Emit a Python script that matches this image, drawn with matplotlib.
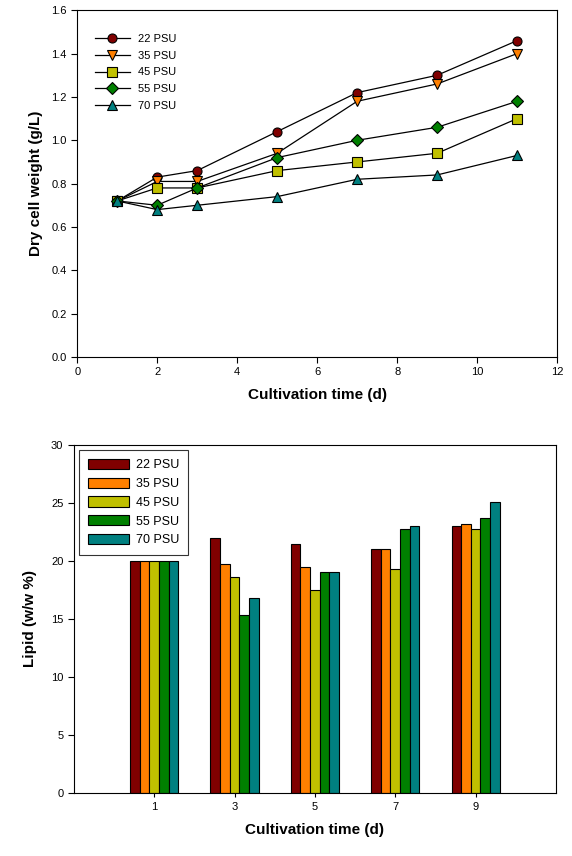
import matplotlib
matplotlib.use("Agg")
import matplotlib.pyplot as plt
import numpy as np

days = [1, 2, 3, 5, 7, 9, 11]
labels = ["22 PSU", "35 PSU", "45 PSU", "55 PSU", "70 PSU"]
dcw_22 = [0.72, 0.83, 0.86, 1.04, 1.22, 1.30, 1.46]
dcw_35 = [0.72, 0.81, 0.81, 0.94, 1.18, 1.26, 1.40]
dcw_45 = [0.72, 0.78, 0.78, 0.86, 0.90, 0.94, 1.10]
dcw_55 = [0.72, 0.70, 0.78, 0.92, 1.00, 1.06, 1.18]
dcw_70 = [0.72, 0.68, 0.70, 0.74, 0.82, 0.84, 0.93]

lipid_days = ["1", "3", "5", "7", "9"]
lipid_22 = [20.0, 22.0, 21.5, 21.0, 23.05]
lipid_35 = [20.0, 19.7, 19.5, 21.05, 23.15]
lipid_45 = [20.0, 18.6, 17.5, 19.3, 22.8]
lipid_55 = [20.0, 15.3, 19.05, 22.8, 23.7]
lipid_70 = [20.0, 16.8, 19.05, 23.05, 25.1]

colors = ["#800000", "#FF8000", "#C0C000", "#008000", "#008080"]
markers = ["o", "v", "s", "D", "^"]

plt.rcParams['font.family'] = ['Liberation Sans', 'DejaVu Sans']

fig = plt.figure(figsize=(5.72, 8.56), dpi=100)

# Top chart
ax1 = fig.add_axes([0.135, 0.583, 0.839, 0.405])
for vals, c, m, lab in zip([dcw_22, dcw_35, dcw_45, dcw_55, dcw_70], colors, markers, labels):
    ax1.plot(days, vals, color="black", lw=0.9, marker=m, markersize=6.5 if m != "D" else 6,
             markerfacecolor=c, markeredgecolor="black", markeredgewidth=0.8, label=lab)
ax1.set_xlim(0, 12)
ax1.set_ylim(0, 1.6)
ax1.set_xticks(np.arange(0, 13, 2))
ax1.set_yticks(np.arange(0, 1.61, 0.2))
ax1.set_yticklabels([f"{v:.1f}" for v in np.arange(0, 1.61, 0.2)])
ax1.tick_params(direction="out", labelsize=8, length=4, width=0.8)
ax1.set_xlabel("Cultivation time (d)", fontsize=11, fontweight="bold", labelpad=8)
ax1.set_ylabel("Dry cell weight (g/L)", fontsize=11, fontweight="bold", labelpad=6)
ax1.legend(loc="upper left", frameon=False, fontsize=8, bbox_to_anchor=(0.02, 0.955),
           handlelength=3.2, labelspacing=0.62, borderaxespad=0.3, handletextpad=0.7)

# Bottom chart
ax2 = fig.add_axes([0.129, 0.074, 0.843, 0.406])
x = np.arange(len(lipid_days))
w = 0.12
for i, (vals, c, lab) in enumerate(zip([lipid_22, lipid_35, lipid_45, lipid_55, lipid_70], colors, labels)):
    ax2.bar(x + (i - 2) * w, vals, width=w, color=c, edgecolor="black", linewidth=0.8, label=lab)
ax2.set_xlim(-1, 5)
ax2.set_ylim(0, 30)
ax2.set_xticks(x)
ax2.set_xticklabels(lipid_days)
ax2.set_yticks(np.arange(0, 31, 5))
ax2.tick_params(direction="out", labelsize=8, length=4, width=0.8)
ax2.tick_params(axis="x", length=3)
ax2.set_xlabel("Cultivation time (d)", fontsize=11, fontweight="bold", labelpad=8)
ax2.set_ylabel("Lipid (w/w %)", fontsize=11, fontweight="bold", labelpad=10)
leg = ax2.legend(loc="upper left", frameon=True, fontsize=9, fancybox=False,
                 handlelength=3.3, handleheight=0.9, labelspacing=0.5, borderaxespad=0.4,
                 handletextpad=0.6, borderpad=0.7)
leg.get_frame().set_edgecolor("black")
leg.get_frame().set_linewidth(0.8)

fig.savefig("out.png", dpi=100)
